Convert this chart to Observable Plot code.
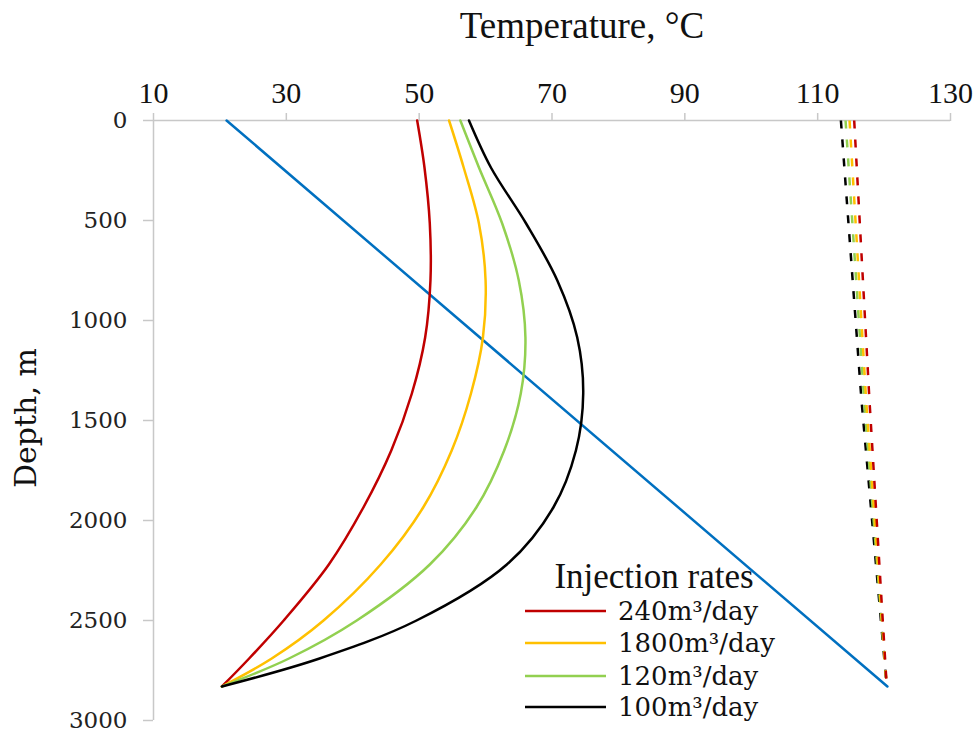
<!DOCTYPE html>
<html>
<head>
<meta charset="utf-8">
<script src="https://cdn.jsdelivr.net/npm/d3@7"></script>
<script src="https://cdn.jsdelivr.net/npm/@observablehq/plot@0.6"></script>
<style>
  html, body { margin: 0; padding: 0; background: #fff; }
  #chart { position: relative; width: 979px; height: 736px; }
</style>
</head>
<body>
<div id="chart"></div>
<script>
// ---- data ----
const depths = [0, 235, 515, 800, 1085, 1365, 1650, 1935, 2220, 2500, 2690, 2830];
const temp240 = [49.7, 50.8, 51.6, 51.7, 50.9, 48.9, 45.8, 41.6, 36.4, 29.6, 24.4, 20.3];
const temp1800 = [54.5, 56.7, 59.0, 60.0, 59.6, 57.8, 54.9, 50.6, 44.2, 35.6, 27.8, 20.3];
const temp120 = [56.2, 59.0, 62.5, 65.0, 66.0, 65.3, 62.8, 58.6, 51.6, 40.6, 30.4, 20.3];
const temp100 = [57.5, 60.8, 66.1, 70.8, 73.8, 74.7, 73.6, 70.2, 63.2, 49.6, 35.0, 20.3];

const geoDepths = [0, 2830];
const geoTemps = [21, 120.5];

const prodDepths = [0, 1400, 2830];
const prod100 = [113.5, 116.6, 120.4];
const prod120 = [114.2, 117.0, 120.4];
const prod1800 = [114.8, 117.3, 120.4];
const prod240 = [115.5, 117.8, 120.4];

const rateLabels = ["240m³/day", "1800m³/day", "120m³/day", "100m³/day"];
const rateColors = ["#C00000", "#FFC000", "#92D050", "#000000"];
const xTicks = [10, 30, 50, 70, 90, 110, 130];
const yTicks = [0, 500, 1000, 1500, 2000, 2500, 3000];

// ---- build tables ----
const injSeries = [temp240, temp1800, temp120, temp100];
const prodSeries = [prod240, prod1800, prod120, prod100];
const injRows = injSeries.flatMap((arr, i) => arr.map((t, j) => ({rate: rateLabels[i], t, d: depths[j]})));
const prodRows = [3, 2, 1, 0].flatMap(i => prodSeries[i].map((t, j) => ({rate: rateLabels[i], t, d: prodDepths[j]})));
const geoRows = geoTemps.map((t, j) => ({t, d: geoDepths[j]}));

const serif = "'Liberation Serif', 'DejaVu Serif', serif";
const serif2 = "'DejaVu Serif', 'Liberation Serif', serif";

const chart = Plot.plot({
  width: 979,
  height: 736,
  marginLeft: 153,
  marginRight: 29,
  marginTop: 120,
  marginBottom: 16,
  x: {domain: [10, 130]},
  y: {domain: [0, 3000], reverse: true},
  color: {domain: rateLabels, range: rateColors},
  style: {background: "#fff", overflow: "visible"},
  marks: [
    Plot.ruleY([0], {stroke: "#c8c8c8", strokeWidth: 1.5}),
    Plot.ruleX([10], {stroke: "#c8c8c8", strokeWidth: 1.5}),
    Plot.axisX({anchor: "top", ticks: xTicks, tickSize: 8, tickPadding: 10, stroke: "#c8c8c8",
      strokeWidth: 1.5, fontSize: 30, fontFamily: serif, fill: "#111", label: null}),
    Plot.axisY({anchor: "left", ticks: yTicks, tickSize: 10, tickPadding: 16, stroke: "#c8c8c8",
      strokeWidth: 1.5, fontSize: 23, fontFamily: serif2, fill: "#222", tickFormat: d3.format("d"), label: null}),
    Plot.line(geoRows, {x: "t", y: "d", stroke: "#0070C0", strokeWidth: 2.5}),
    Plot.line(prodRows, {x: "t", y: "d", z: "rate", stroke: "rate", strokeWidth: 2.5,
      strokeDasharray: "8,11", strokeLinecap: "butt"}),
    Plot.line(injRows, {x: "t", y: "d", z: "rate", stroke: "rate", strokeWidth: 2.5,
      curve: "catmull-rom"})
  ]
});

const svg = d3.select(chart);
// Title (top axis label)
svg.append("text")
  .attr("x", 582).attr("y", 38)
  .attr("text-anchor", "middle")
  .style("font-family", serif).style("font-size", "37px").attr("fill", "#111")
  .text("Temperature, °C");
// Y axis label
svg.append("text")
  .attr("transform", "translate(36,418) rotate(-90)")
  .attr("text-anchor", "middle")
  .style("font-family", serif2).style("font-size", "30px").attr("fill", "#111")
  .text("Depth, m");
// Legend
const lg = svg.append("g");
lg.append("text")
  .attr("x", 654).attr("y", 588).attr("text-anchor", "middle")
  .style("font-family", serif).style("font-size", "35px").attr("fill", "#111")
  .text("Injection rates");
const rowY = [611, 643, 676, 707];
rateLabels.forEach((lab, i) => {
  lg.append("line").attr("x1", 525).attr("x2", 606).attr("y1", rowY[i]).attr("y2", rowY[i])
    .attr("stroke", rateColors[i]).attr("stroke-width", 2.5);
  lg.append("text").attr("x", 618).attr("y", rowY[i]).attr("dy", "0.35em")
    .attr("text-anchor", "start")
    .style("font-family", serif2).style("font-size", "26px").attr("fill", "#111")
    .text(lab);
});

document.getElementById("chart").appendChild(chart);
</script>
</body>
</html>
